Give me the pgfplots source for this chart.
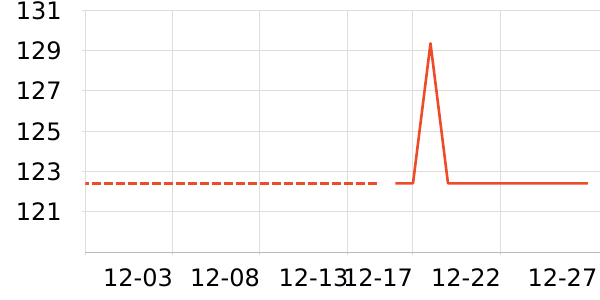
\documentclass[border=0pt]{standalone}
\usepackage{fontspec}
\setmainfont{DejaVu Sans}
\usepackage{pgfplots}
\pgfplotsset{compat=1.18}
\definecolor{linered}{HTML}{EE4B2B}
\definecolor{gridc}{HTML}{DDDDDD}
\definecolor{axisc}{HTML}{BBBBBB}
\begin{document}
\begin{tikzpicture}
\useasboundingbox (-42.75pt,-23.85pt) rectangle (257.25pt,126.15pt);
\begin{axis}[
  at={(0pt,0pt)}, anchor=south west,
  scale only axis,
  width=257.25pt, height=121pt,
  xmin=-0.714, xmax=28.686,
  ymin=119, ymax=131,
  axis x line*=bottom, axis y line*=left,
  x axis line style={draw=axisc, line width=0.5pt, -},
  y axis line style={draw=gridc, line width=0.5pt, -},
  xtick={-0.714,4.246,9.217,14.269,17.96,22.989},
  xticklabels={,12-03,12-08,12-13,12-17,12-22},
  extra x ticks={28.497},
  extra x tick labels={12-27},
  extra x tick style={grid=none, tick style={draw=none}},
  ytick={121,123,125,127,129,131},
  grid=major,
  major grid style={draw=gridc, line width=0.5pt},
  tick align=outside,
  major tick length=1.5pt,
  tick style={draw=gridc, line width=0.5pt},
  /pgf/number format/assume math mode=true,
  tick label style={font=\fontsize{12}{14}\selectfont, text=black},
  xticklabel style={anchor=north east, inner sep=0pt, yshift=-6.35pt, xshift=0.5pt},
  yticklabel style={anchor=east, inner sep=0pt, xshift=-10.25pt},
  clip=true,
]
\addplot[linered, line width=1.3pt, line join=round, dash pattern=on 4.2pt off 1.8pt] coordinates {
  (-1,122.42) (0,122.42) (1,122.42) (2,122.42) (3,122.42) (4,122.42)
  (5,122.42) (6,122.42) (7,122.42) (8,122.42) (9,122.42) (10,122.42)
  (11,122.42) (12,122.42) (13,122.42) (14,122.42) (15,122.42) (16,122.42)
};
\addplot[linered, line width=1.3pt, line join=round] coordinates {
  (17,122.42) (18,122.42) (19,129.36) (20,122.42) (21,122.42) (22,122.42)
  (23,122.42) (24,122.42) (25,122.42) (26,122.42) (27,122.42) (28,122.42)
};
\end{axis}
\end{tikzpicture}
\end{document}
